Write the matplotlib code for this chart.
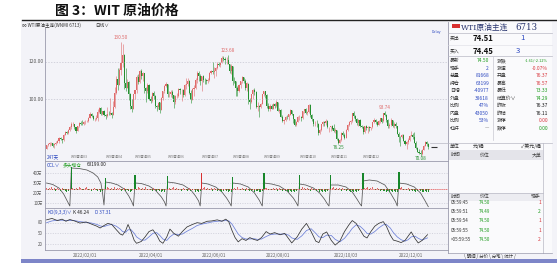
import numpy as np
import matplotlib
matplotlib.use('Agg')
import matplotlib.pyplot as plt
from matplotlib.patches import Rectangle

plt.rcParams['font.family'] = ['Noto Sans CJK SC', 'DejaVu Sans']
plt.rcParams['axes.unicode_minus'] = False

# ---------------- data ----------------
opens = [73.8, 75.6, 76.0, 76.5, 76.9,
         75.7, 76.1, 77.0, 77.8, 79.5, 78.9, 78.2, 81.2, 82.6, 82.2, 83.9, 85.4, 86.9, 86.9, 85.1, 83.3, 85.6, 87.3, 86.8, 86.7,
         88.2, 88.2, 88.3, 90.3, 92.3, 91.3, 89.4, 89.7, 89.9, 93.1, 95.5, 92.1, 93.7, 91.8, 91.1, 92.4, 92.1, 92.8, 91.6,
         95.7, 103.4, 110.6, 107.7, 115.7, 119.4, 123.7, 108.7, 106.0, 109.3, 103.0, 96.4, 95.0, 103.0, 104.7, 112.1, 109.3, 114.9, 112.3, 113.9, 106.0, 104.2, 107.8,
         100.3, 99.3, 103.3, 102.0, 96.2, 96.0, 98.3, 94.3, 100.6, 104.3, 107.0, 108.2, 102.6, 102.8, 103.8, 102.1, 98.5, 101.7, 102.0, 105.4,
         104.7, 105.2, 102.4, 107.8, 108.3, 109.8, 103.1, 99.8, 105.7, 106.1, 110.5, 114.2, 112.4, 109.6, 112.2, 110.3, 110.3, 109.8, 110.3, 114.1, 115.1,
         114.7, 115.3, 116.9, 118.9, 118.5, 119.4, 122.1, 121.5, 120.7, 120.9, 118.9, 115.3, 117.6, 109.6, 109.5, 106.2, 104.3, 107.6, 109.6, 111.8, 109.8,
         105.8, 108.4, 99.5, 98.5, 102.7, 104.8, 104.1, 95.8, 96.3, 95.8, 97.6, 102.6, 104.2, 102.3, 96.4, 94.7, 96.7, 95.0, 97.3, 96.4,
         98.6, 93.9, 94.4, 90.7, 88.5, 89.0, 90.8, 90.5, 91.9, 94.3, 92.1, 89.4, 86.5, 88.1, 90.5, 90.8, 90.2, 93.7, 94.9, 92.5, 93.1, 97.0, 91.6,
         89.6, 86.6, 86.9, 86.9, 81.9, 83.5, 86.8, 87.8, 87.3, 88.5, 85.1, 85.1, 85.7, 84.5, 82.9, 83.5, 78.7, 76.7, 78.5, 82.2, 81.2,
         79.5, 83.6, 86.5, 87.8, 88.5, 92.6, 91.1, 89.4, 87.3, 89.1, 85.6, 85.5, 82.8, 85.6, 84.5, 85.1, 84.6, 85.3, 87.9, 89.1, 87.9,
         86.5, 88.4, 90.0, 88.2, 92.6, 91.8, 88.9, 85.8, 86.5, 89.0, 85.9, 86.9, 85.6, 81.6, 80.1, 79.7, 81.0, 77.9, 76.3, 77.2, 78.2,
         80.6, 81.2, 80.0, 76.9, 74.3, 72.0, 71.5, 71.0, 73.2, 75.4, 77.3, 76.37]
highs = [75.7, 76.8, 77.2, 77.2, 77.0,
         76.8, 77.6, 78.2, 80.2, 80.2, 79.1, 81.4, 82.9, 83.0, 84.1, 86.0, 87.9, 87.9, 87.0, 85.3, 85.9, 87.9, 88.5, 88.8, 88.6,
         88.8, 89.0, 90.8, 93.2, 92.7, 91.5, 90.3, 91.5, 94.7, 95.8, 95.8, 94.0, 94.1, 92.4, 96.0, 93.6, 100.5, 93.4, 99.1,
         106.8, 112.5, 116.6, 116.6, 130.5, 129.4, 124.0, 116.4, 110.9, 110.0, 103.5, 99.9, 103.0, 105.0, 112.9, 113.5, 115.4, 116.0, 114.5, 114.0, 106.3, 108.5, 108.0,
         101.9, 104.0, 104.6, 102.4, 97.2, 98.6, 98.4, 101.1, 104.5, 107.5, 109.2, 108.2, 104.2, 105.0, 104.7, 102.3, 102.3, 103.1, 106.2, 106.0,
         105.6, 105.5, 108.3, 111.4, 111.4, 110.1, 105.1, 106.0, 107.5, 111.2, 115.0, 114.9, 113.3, 112.5, 113.1, 111.2, 111.0, 111.4, 114.5, 115.6, 119.9,
         117.3, 117.1, 120.0, 120.0, 119.9, 123.2, 123.3, 122.7, 122.7, 123.68, 119.0, 118.6, 117.9, 111.7, 110.0, 106.9, 108.0, 110.0, 112.3, 112.0, 110.8,
         109.0, 108.5, 100.9, 103.0, 105.3, 106.0, 104.3, 98.3, 97.0, 98.2, 102.8, 104.6, 104.4, 102.6, 98.0, 97.7, 97.5, 98.1, 98.1, 99.4,
         98.7, 95.5, 95.0, 91.5, 89.5, 91.2, 91.4, 92.2, 94.7, 94.4, 92.2, 89.6, 88.5, 90.9, 91.4, 91.0, 94.0, 95.1, 95.6, 93.9, 97.7, 97.3, 92.3,
         89.7, 88.5, 89.1, 87.5, 84.2, 87.1, 88.5, 88.6, 89.5, 89.0, 85.5, 86.0, 86.2, 86.6, 84.5, 83.6, 79.5, 79.1, 82.6, 83.0, 81.9,
         84.0, 86.7, 88.4, 88.9, 92.8, 93.6, 91.4, 89.8, 89.6, 89.3, 86.4, 85.9, 86.0, 86.3, 85.8, 85.8, 85.5, 88.1, 89.8, 89.3, 88.2,
         89.2, 90.2, 90.2, 92.9, 93.74, 92.3, 89.4, 87.5, 89.9, 89.1, 88.1, 87.7, 85.7, 82.6, 80.6, 81.6, 81.6, 78.6, 77.7, 79.2, 80.9,
         83.3, 81.9, 82.7, 77.6, 74.8, 73.6, 73.0, 73.3, 75.9, 77.8, 77.9, 76.57]
lows = [73.3, 75.1, 75.3, 75.8, 74.8,
        74.3, 75.6, 76.6, 76.8, 78.2, 76.7, 77.9, 80.8, 81.3, 81.6, 83.2, 84.4, 85.8, 84.3, 82.0, 83.0, 85.2, 86.5, 86.1, 86.3,
        87.0, 87.7, 87.8, 89.8, 90.5, 88.8, 88.7, 88.9, 88.6, 92.7, 91.5, 91.7, 91.1, 89.6, 90.5, 91.4, 91.6, 90.1, 91.4,
        95.3, 102.7, 105.0, 107.4, 113.0, 117.0, 105.3, 104.5, 106.0, 99.8, 94.6, 93.2, 94.8, 100.1, 103.6, 107.9, 108.8, 111.0, 109.6, 103.5, 98.4, 103.6, 99.5,
        98.0, 98.5, 100.3, 95.4, 93.6, 94.9, 92.9, 94.2, 99.8, 103.1, 106.4, 101.4, 101.0, 101.4, 100.9, 95.3, 97.7, 100.7, 101.0, 102.9,
        99.2, 101.0, 101.6, 105.4, 107.1, 102.6, 98.2, 99.6, 101.6, 105.4, 108.7, 110.0, 107.8, 104.6, 109.0, 108.2, 107.9, 108.5, 109.9, 113.2, 113.4,
        111.2, 112.3, 116.3, 117.7, 117.1, 119.1, 120.3, 118.9, 118.8, 118.6, 113.9, 113.4, 107.7, 108.6, 101.5, 101.6, 103.9, 106.2, 108.6, 108.6, 105.0,
        104.6, 97.4, 95.1, 97.9, 100.1, 102.5, 95.2, 93.8, 90.6, 95.3, 97.3, 101.5, 100.8, 95.6, 94.0, 93.8, 94.6, 94.8, 95.3, 95.8,
        93.6, 92.8, 90.4, 87.9, 87.0, 88.2, 89.5, 89.1, 91.6, 91.7, 87.6, 85.7, 85.8, 87.9, 89.2, 88.4, 89.7, 92.8, 92.4, 91.8, 92.8, 90.6, 88.6,
        85.9, 86.0, 85.3, 81.2, 81.3, 83.0, 85.7, 86.0, 86.4, 84.6, 82.6, 83.1, 83.5, 82.4, 82.0, 78.2, 76.25, 76.6, 77.8, 80.3, 78.9,
        79.3, 83.3, 85.6, 86.9, 88.1, 90.3, 88.7, 86.3, 85.6, 85.3, 84.6, 81.8, 82.1, 83.8, 82.1, 83.2, 83.8, 84.9, 87.3, 86.9, 85.8,
        86.1, 87.6, 87.2, 87.7, 91.0, 88.1, 85.0, 84.7, 85.8, 85.1, 85.0, 84.9, 81.3, 77.2, 75.1, 79.3, 77.6, 75.8, 73.6, 76.4, 77.8,
        80.4, 79.0, 76.8, 73.8, 71.8, 71.1, 70.08, 70.4, 72.8, 74.9, 75.2, 73.33]
closes = [75.57, 75.98, 76.56, 76.99, 75.21,
          76.08, 76.99, 77.85, 79.46, 78.90, 78.23, 81.22, 82.64, 82.12, 83.82, 85.43, 86.96, 86.90, 85.14, 83.31, 85.60, 87.35, 86.82, 86.61, 88.15,
          88.20, 88.26, 90.27, 92.31, 91.32, 89.36, 89.66, 89.88, 93.10, 95.46, 92.07, 93.66, 91.76, 91.07, 92.35, 92.10, 92.81, 91.59, 95.72,
          103.41, 110.60, 107.67, 115.68, 119.40, 123.70, 108.70, 106.02, 109.33, 103.01, 96.44, 95.04, 102.98, 104.70, 112.12, 109.27, 114.93, 112.34, 113.90, 105.96, 104.24, 107.82, 100.28,
          99.27, 103.28, 101.96, 96.23, 96.03, 98.26, 94.29, 100.60, 104.25, 106.95, 108.21, 102.56, 102.75, 103.79, 102.07, 98.54, 101.70, 102.02, 105.36, 104.69,
          105.17, 102.41, 107.81, 108.26, 109.77, 103.09, 99.76, 105.71, 106.13, 110.49, 114.20, 112.40, 109.59, 112.21, 110.28, 110.29, 109.77, 110.33, 114.09, 115.07, 114.67,
          115.26, 116.87, 118.87, 118.50, 119.41, 122.11, 121.51, 120.67, 120.93, 118.93, 115.31, 117.59, 109.56, 109.52, 106.19, 104.27, 107.62, 109.57, 111.76, 109.78, 105.76,
          108.43, 99.50, 98.53, 102.73, 104.79, 104.09, 95.84, 96.30, 95.78, 97.59, 102.60, 104.22, 102.26, 96.35, 94.70, 96.70, 94.98, 97.26, 96.42, 98.62,
          93.89, 94.42, 90.66, 88.54, 89.01, 90.76, 90.50, 91.93, 94.34, 92.09, 89.41, 86.53, 88.11, 90.50, 90.77, 90.23, 93.74, 94.89, 92.52, 93.06, 97.01, 91.64, 89.55,
          86.61, 86.87, 86.88, 81.94, 83.54, 86.79, 87.78, 87.31, 88.48, 85.10, 85.11, 85.73, 84.45, 82.94, 83.49, 78.74, 76.71, 78.50, 82.15, 81.23, 79.49,
          83.63, 86.52, 87.76, 88.45, 92.64, 91.13, 89.35, 87.27, 89.11, 85.61, 85.46, 82.82, 85.55, 84.51, 85.05, 84.58, 85.32, 87.91, 89.08, 87.90, 86.53,
          88.37, 90.00, 88.17, 92.61, 91.79, 88.91, 85.83, 86.47, 88.96, 85.87, 86.92, 85.59, 81.64, 80.08, 79.73, 80.95, 77.94, 76.28, 77.24, 78.20, 80.55,
          81.22, 79.98, 76.93, 74.25, 72.01, 71.46, 71.02, 73.17, 75.39, 77.28, 76.37, 74.50]

PEAK_IDX = [48, 117, 218]
TROUGH_IDX = [188, 241]
PRICE_TICKS = [120, 100]

ROLL_IDX = [16, 38, 57, 78, 100, 120, 140, 163, 183, 204, 227]
ROLL_CHG = [21.5, 10.5, 13.5, 12.5, 15.5, 11.5, 15.5, 13.5, 13.5, 15.5, 16.5]
ROLL_RED = [False, False, False, False, True, False, False, False, False, False, False]
CONTRACT_LABELS = ['WTI原油03', 'WTI原油04', 'WTI原油05', 'WTI原油06', 'WTI原油07',
                   'WTI原油08', 'WTI原油09', 'WTI原油10', 'WTI原油11', 'WTI原油12']

OI_X = [0, 4, 8, 11, 13, 15,
        16, 21, 26, 30, 33, 35, 36, 37,
        38, 42, 46, 50, 53, 55, 56,
        57, 61, 66, 70, 74, 76, 77,
        78, 83, 88, 93, 96, 98, 99,
        100, 104, 109, 113, 116, 118, 119,
        120, 125, 130, 134, 137, 139,
        140, 145, 150, 155, 159, 161, 162,
        163, 167, 172, 176, 179, 181, 182,
        183, 188, 193, 197, 200, 202, 203,
        204, 208, 213, 218, 222, 225, 226,
        227, 232, 237, 241, 244, 246]
OI_V = [30, 28.5, 25, 19, 13, 7,
        45, 44.5, 43, 40, 36, 30, 21, 8,
        31, 30, 28, 24, 17, 11, 7,
        30, 29.5, 27, 23, 16, 11, 7,
        31, 30, 28, 23, 17, 12, 7,
        30, 29, 26, 21, 15, 10, 7,
        30, 29, 26, 20, 13, 7,
        30, 29, 27, 22, 15, 10, 7,
        29, 28, 25, 20, 14, 9, 7,
        28, 28, 26, 21, 14, 9, 7,
        32, 33, 32, 28, 19, 11, 7,
        30, 29, 26, 20, 12, 6.32]
OI_TICKS = [40, 30, 20, 10]
OI_TICK_LABELS = ['40万', '30万', '20万', '10万']
OI_LAST = '63199.00'

OI_CHG = [1, -1, 1, 2, -1, 1, -2, 1, -1, -2, 1, -1, -2, -3, -2, 0, 1, 1, -1,
          1, -1, 2, 1, -1, -1, 1, 2, -1, 1, -2, -1, 1, -1, -2, -1, -3, -2, -3,
          0, 2, 1, -1, 1, -1, 2, -1, 1, 1, -2, -1, 1, -2, -1, -2, -3, -2, 0,
          1, -1, 2, 1, -1, 1, -1, 2, -1, 1, -1, -2, 1, -1, -2, -1, -2, -3, -2,
          -3, 0, 2, 1, -1, 1, 2, -1, 1, -1, 1, -2, 1, -1, -1, -2, 1, -2, -1,
          -2, -3, -2, -3, -2, 0, 1, 2, -1, 1, -1, 1, -2, 1, -1, -2, -1, -2, -3,
          -2, -3, -2, -3, -2, -3, 0, 1, -1, 2, 1, -1, 1, -1, -2, 1, -1, -2, -2,
          -1, -3, -2, -2, -3, -3, -2, 0, 1, 1, -1, 2, -1, 1, -1, 1, -2, 1, -1,
          -2, -1, -2, -2, -3, -2, -3, -2, -3, -2, 0, 1, -1, 2, 1, -1, 1, -1, -2,
          1, -1, -2, -2, -1, -3, -2, -3, -2, -3, -2, -3, 0, 1, 2, -1, 1, -1, 1,
          -2, 1, -1, -2, -1, -2, -3, -2, -3, -2, -3, -2, -3, 0, 2, 1, 1, 2, -1,
          1, 2, 1, -1, 1, -1, -2, -1, -2, -2, -3, -2, -3, -2, -3, -2, -3, -3, 0,
          1, 2, -1, 1, -1, 1, -2, -1, -2, -2, -3, -2, -3, -2, -3, -3, -2, -3, -3]

KD_X = [0, 3.5, 7, 10, 12.5, 15, 18, 21.5, 25.5, 29, 32.5, 34.5, 37, 39.5, 42, 45, 47.5, 49, 51, 52.5,
        54.5, 56.5, 58, 61, 63.5, 66, 68.5, 71, 73, 75, 77.5, 79.5, 82, 85, 87.5, 90.5, 94, 97, 100, 103.5,
        106.5, 110, 113, 115.5, 117.5, 119.5, 121.5, 123.5, 126, 128.5, 131, 133.5, 136, 138.5, 141.5, 144, 147, 150.5, 153.5, 156,
        158, 161.5, 164.5, 167.5, 170.5, 173.5, 175.5, 178, 180.5, 183.5, 186, 189, 192, 195, 197, 199.5, 202, 204.5, 206.5, 209,
        211.5, 214, 217, 219, 221.5, 223.5, 226, 228.5, 231, 233, 235, 237.5, 239.5, 242, 245.5]
K_V = [88, 92, 86, 90, 84, 89, 85, 79, 82, 76, 70, 65, 72, 78, 75, 60, 48, 45, 58, 75,
       55, 30, 22, 27, 40, 55, 60, 45, 28, 22, 40, 62, 50, 42, 55, 68, 75, 80, 78, 84,
       85, 88, 84, 90, 82, 58, 38, 26, 35, 30, 38, 33, 30, 38, 55, 48, 52, 46, 50, 35,
       23, 40, 62, 78, 55, 28, 24, 48, 54, 30, 17, 28, 55, 75, 86, 78, 60, 42, 37, 55,
       70, 78, 83, 70, 45, 31, 28, 24, 30, 42, 54, 35, 23, 30, 46.24]
D_V = [80, 85, 87, 87, 86, 86, 86, 83, 81, 79, 75, 71, 69, 73, 75, 70, 62, 55, 53, 60,
       60, 50, 40, 31, 31, 40, 50, 52, 44, 34, 30, 40, 48, 47, 48, 56, 64, 72, 76, 79,
       82, 84, 85, 86, 85, 76, 62, 48, 38, 34, 34, 35, 33, 34, 41, 46, 48, 48, 48, 45,
       37, 33, 43, 58, 63, 50, 40, 38, 45, 44, 33, 26, 36, 52, 64, 74, 70, 60, 50, 48,
       55, 65, 74, 75, 65, 52, 40, 32, 28, 32, 40, 42, 36, 31, 37.31]
KD_TICKS = [80, 50, 20]

DATE_IDX = [25, 67, 108, 149, 193, 235]
DATE_LABELS = ['2022/02/01', '2022/04/01', '2022/06/01', '2022/08/01', '2022/10/03', '2022/12/01']

LEFT_LABELS = ['最新', '现手', '总量', '持仓', '日增', '外盘', '比例', '内盘', '比例', '杠杆']
LEFT_VALUES = ['74.50', '2', '81668', '63199', '-40977', '38618', '47%', '43050', '53%', '—']
RIGHT_LABELS = ['涨跌', '涨速', '开盘', '最高', '最低', '结算价∨', '昨收', '昨结', '涨停', '跌停']
RIGHT_VALUES = ['-1.61/-2.12%', '-0.07%', '76.37', '76.57', '73.33', '74.29', '76.37', '76.11', '0.00', '0.00']
TRADE_TIME = ['05:59:45', '05:59:51', '05:59:54', '05:59:55', '>05:59:55']
TRADE_PRICE = ['74.50', '74.49', '74.50', '74.50', '74.50']
TRADE_QTY = ['1', '2', '1', '1', '2']

# ---------------- style ----------------
UP = '#df6a6a'
DN = '#259030'
GREEN_T = '#1a9a1a'
RED_T = '#d8343a'
BLUE_T = '#2c48c0'
GRID = '#c6c6d2'
FRAME = '#9a9aac'
BGC = '#f3f3f8'

W, H = 557, 264
fig = plt.figure(figsize=(W / 100, H / 100), dpi=100)


def R(x0, y0, x1, y1):
    return [x0 / W, 1 - y1 / H, (x1 - x0) / W, (y1 - y0) / H]


bg = fig.add_axes([0, 0, 1, 1])
bg.set_xlim(0, W); bg.set_ylim(H, 0); bg.axis('off')
bg.add_patch(Rectangle((21, 21), 536, 238, fc=BGC, ec='none'))
bg.add_patch(Rectangle((448, 22), 104, 231, fc='#fafafc', ec='none'))
bg.add_patch(Rectangle((448, 150), 95, 10, fc='#e4e4ea', ec='none'))
bg.add_patch(Rectangle((448, 192.5), 95, 8.5, fc='#ececf1', ec='none'))
bg.add_patch(Rectangle((21, 258.5), 536, 4, fc='#7d85c8', ec='none'))

XL = (-1, 258.7)
o = np.array(opens); h = np.array(highs); l = np.array(lows); c = np.array(closes)
x = np.arange(len(c))
up = c >= o
col = np.where(up, UP, DN)

# main price panel
ax = fig.add_axes(R(45, 28, 448, 161))
ax.set_xlim(*XL); ax.set_ylim(67.18, 137.93); ax.axis('off')
for t in PRICE_TICKS:
    ax.axhline(t, color=GRID, lw=0.5, ls=(0, (2, 2)))
    ax.text(-0.004, t, f'{t:.2f}', transform=ax.get_yaxis_transform(), ha='right', va='center',
            fontsize=3.5, color='#555', clip_on=False)
ax.vlines(x, l, h, colors=col, lw=0.4)
ax.bar(x, np.maximum(np.abs(c - o), 0.15), bottom=np.minimum(o, c), width=0.7, color=col, lw=0)
for i in PEAK_IDX:
    ax.text(i, h[i] + 0.8, f'{h[i]:.2f}', ha='center', va='bottom', fontsize=3.4, color=UP)
for i in TROUGH_IDX:
    ax.text(i, l[i] - 0.4, f'{l[i]:.2f}', ha='center', va='top', fontsize=3.4, color=DN)
ax.hlines(c[-1], len(c) + 0.5, len(c) + 4.5, color='#333', lw=0.8, clip_on=False)
ax.text(0, 0.03, f'{len(c)}天', transform=ax.get_xaxis_transform(), ha='left', va='center',
        fontsize=3.3, color=BLUE_T)
for i, lab in zip(ROLL_IDX, CONTRACT_LABELS):
    ax.text(i, 0.03, lab, transform=ax.get_xaxis_transform(), ha='left', va='center',
            fontsize=2.5, color='#777')

# open interest panel
ax2 = fig.add_axes(R(45, 161, 448, 208))
ax2.set_xlim(*XL); ax2.set_ylim(5, 52); ax2.axis('off')
for t, lab in zip(OI_TICKS, OI_TICK_LABELS):
    ax2.axhline(t, color=GRID, lw=0.5, ls=(0, (1.5, 2)))
    ax2.text(-0.006, t, lab, transform=ax2.get_yaxis_transform(), ha='right', va='center',
             fontsize=3.2, color='#555', clip_on=False)
ax2.plot(OI_X, OI_V, color='#555', lw=0.55)

ax2b = fig.add_axes(R(45, 161, 448, 208))
ax2b.set_xlim(*XL); ax2b.set_ylim(-19.5, 27.5); ax2b.axis('off')
chg = np.array(OI_CHG)
ax2b.axhline(0, color='#e03030', lw=0.55, ls=(0, (1.5, 1.2)))
ax2b.bar(x, chg, width=0.6, color=np.where(chg > 0, UP, DN), lw=0)
ax2b.bar(ROLL_IDX, ROLL_CHG, width=0.9, color=['#d83030' if r else '#17862a' for r in ROLL_RED], lw=0)

# KD panel
ax3 = fig.add_axes(R(45, 208, 448, 250))
ax3.set_xlim(*XL); ax3.set_ylim(3.1, 121.4); ax3.axis('off')
for t in KD_TICKS:
    ax3.axhline(t, color=GRID, lw=0.5, ls=(0, (1.5, 2)))
    ax3.text(-0.006, t, str(t), transform=ax3.get_yaxis_transform(), ha='right', va='center',
             fontsize=3.2, color='#555', clip_on=False)
ax3.plot(KD_X, D_V, color='#6b7fd8', lw=0.55)
ax3.plot(KD_X, K_V, color='#333', lw=0.55)
for i, lab in zip(DATE_IDX, DATE_LABELS):
    ax3.text(i, -0.14, lab, transform=ax3.get_xaxis_transform(), ha='center', va='center',
             fontsize=3.3, color='#666', clip_on=False)

# ---------------- foreground (frame, texts) ----------------
fg = fig.add_axes([0, 0, 1, 1])
fg.set_xlim(0, W); fg.set_ylim(H, 0); fg.axis('off')
fg.patch.set_alpha(0)

fg.plot([22, 557], [20, 20], color='#222', lw=1.0)
fg.text(55, 10.5, '图 3：WIT 原油价格', fontsize=10, fontweight='bold', va='center', ha='left', color='#111')

fg.plot([45, 45], [28, 250], color=FRAME, lw=0.6)
for yy in (161, 208, 250):
    fg.plot([45, 448], [yy, yy], color=FRAME, lw=0.6)
fg.plot([448, 448], [22, 253], color=FRAME, lw=0.6)

fg.text(22, 25, '∞ WTI原油主连(WNMI 6713)', fontsize=3.3, va='center', ha='left', color='#333')
fg.text(95, 25, '日线∨', fontsize=3.3, va='center', ha='left', color='#333')
fg.text(432, 32, 'Delay', fontsize=2.6, va='center', ha='left', color=BLUE_T)

fg.text(47, 165, 'CCL∨', fontsize=3.4, va='center', ha='left', color=BLUE_T)
fg.text(63, 165, '多头增仓', fontsize=3.4, va='center', ha='left', color=GREEN_T)
fg.text(87, 165, OI_LAST, fontsize=3.4, va='center', ha='left', color='#222')
fg.text(47, 212, 'KD(9,3,3)∨', fontsize=3.4, va='center', ha='left', color=BLUE_T)
fg.text(73, 212, f'K {K_V[-1]:.2f}', fontsize=3.4, va='center', ha='left', color='#222')
fg.text(95, 212, f'D {D_V[-1]:.2f}', fontsize=3.4, va='center', ha='left', color=BLUE_T)

# info panel
fg.add_patch(Rectangle((452, 23.5), 8, 4, fc='#d83030', ec='none'))
fg.text(461, 28, 'WTI原油主连', fontsize=5.6, va='center', ha='left', color='#2a3670',
        family=['DejaVu Serif', 'Noto Sans CJK SC'])
fg.text(515, 28, '6713', fontsize=6.2, va='center', ha='left', color='#2a3670',
        family=['DejaVu Serif', 'Noto Sans CJK SC'])
fg.plot([448, 552], [33, 33], color='#b8b8c4', lw=0.5)
fg.plot([448, 552], [44.5, 44.5], color='#dcdce4', lw=0.4)
fg.plot([448, 552], [56, 56], color='#b8b8c4', lw=0.5)
fg.text(450, 38.5, '卖出', fontsize=3.5, va='center', ha='left', color='#333')
fg.text(473, 38.5, '74.51', fontsize=5.6, va='center', ha='left', color='#111', fontweight='bold')
fg.text(520, 38.5, '1', fontsize=5.6, va='center', ha='left', color=BLUE_T)
fg.text(450, 51, '买入', fontsize=3.5, va='center', ha='left', color='#333')
fg.text(473, 51, '74.45', fontsize=5.6, va='center', ha='left', color='#111', fontweight='bold')
fg.text(516, 51, '3', fontsize=5.6, va='center', ha='left', color=BLUE_T)

left_cols = [GREEN_T, BLUE_T, BLUE_T, BLUE_T, BLUE_T, BLUE_T, BLUE_T, BLUE_T, BLUE_T, '#777']
right_cols = [GREEN_T, RED_T, RED_T, RED_T, GREEN_T, GREEN_T, '#111', '#111', RED_T, GREEN_T]
fg.plot([493, 493], [56, 139.5], color='#c8c8d2', lw=0.5)
for k in range(len(LEFT_LABELS)):
    yy = 60.7 + 7.5 * k
    fg.text(450, yy, LEFT_LABELS[k], fontsize=3.5, va='center', ha='left', color='#333')
    fg.text(489, yy, LEFT_VALUES[k], fontsize=3.5, va='center', ha='right', color=left_cols[k])
    fg.text(497, yy, RIGHT_LABELS[k], fontsize=3.5, va='center', ha='left', color='#333')
    fs = 2.8 if len(RIGHT_VALUES[k]) > 8 else 3.5
    fg.text(548, yy, RIGHT_VALUES[k], fontsize=fs, va='center', ha='right', color=right_cols[k])

fg.plot([430, 552], [143, 143], color='#b8b8c4', lw=0.5)
fg.text(450, 146.5, '单位', fontsize=3.5, va='center', ha='left', color='#333')
fg.text(473, 146.5, '元/桶', fontsize=3.5, va='center', ha='left', color='#333')
fg.text(541, 146.5, '✓美元/桶', fontsize=3.5, va='center', ha='right', color='#333')
fg.text(451, 155, '时间', fontsize=3.5, va='center', ha='left', color='#444')
fg.text(485, 155, '价位', fontsize=3.5, va='center', ha='center', color='#444')
fg.text(541, 155, '大单', fontsize=3.5, va='center', ha='right', color='#444')
fg.plot([448, 543], [192.5, 192.5], color='#b8b8c4', lw=0.5)
fg.text(451, 196.7, '时间', fontsize=3.5, va='center', ha='left', color='#444')
fg.text(485, 196.7, '价位', fontsize=3.5, va='center', ha='center', color='#444')
fg.text(541, 196.7, '现手', fontsize=3.5, va='center', ha='right', color='#444')
qty_cols = [RED_T, GREEN_T, RED_T, RED_T, RED_T]
for k in range(len(TRADE_TIME)):
    yy = 202.7 + 9.1 * k
    fg.text(451, yy, TRADE_TIME[k], fontsize=3.3, va='center', ha='left', color='#333')
    fg.text(485, yy, TRADE_PRICE[k], fontsize=3.3, va='center', ha='center', color=GREEN_T)
    fg.text(541, yy, TRADE_QTY[k], fontsize=3.5, va='center', ha='right', color=qty_cols[k])
fg.plot([543, 543], [143, 253], color='#b8b8c4', lw=0.5)
fg.plot([448, 552], [253, 253], color='#9a9aac', lw=0.5)
fg.text(490, 256, '\\ 明细 / 分价 \\ 分笔 \\ 统计 /', fontsize=3.2, va='center', ha='center', color='#333')

fig.savefig('out.png', dpi=100)
